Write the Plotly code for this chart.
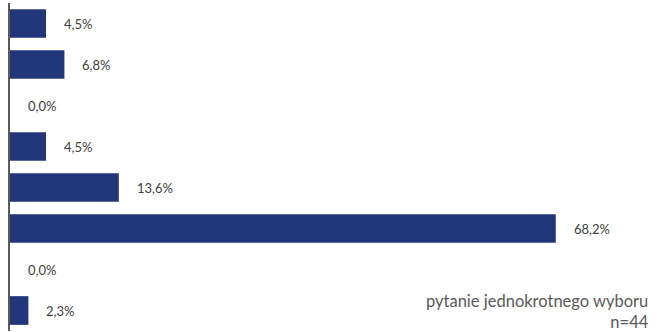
import plotly.graph_objects as go

categories = ["Kategoria 1", "Kategoria 2", "Kategoria 3", "Kategoria 4",
              "Kategoria 5", "Kategoria 6", "Kategoria 7", "Kategoria 8"]
values = [4.5, 6.8, 0.0, 4.5, 13.6, 68.2, 0.0, 2.3]
value_labels = [f"{v:.1f}".replace(".", ",") + "%" for v in values]
note_lines = ["pytanie jednokrotnego wyboru", "n=44"]

BAR = "#22377A"
TXT = "#404040"
FONT = "Lato"

fig = go.Figure()
fig.add_trace(go.Bar(
    x=values, y=categories, orientation="h",
    marker=dict(color=BAR, line=dict(width=0)),
    width=0.7, hoverinfo="skip",
))

for c, v, t in zip(categories, values, value_labels):
    fig.add_annotation(x=v, y=c, xref="x", yref="y", text=t, showarrow=False,
                       xanchor="left", yanchor="middle", xshift=16,
                       font=dict(family=FONT, size=13, color=TXT))

fig.add_annotation(x=1, y=0, xref="paper", yref="paper",
                   text="<br>".join(note_lines), showarrow=False,
                   xanchor="right", yanchor="bottom", align="right",
                   xshift=-4, yshift=-3,
                   font=dict(family=FONT, size=16.5, color="#595959"))

fig.update_layout(
    width=665, height=332,
    margin=dict(l=10, r=10, t=3, b=1),
    paper_bgcolor="white", plot_bgcolor="white",
    showlegend=False,
    xaxis=dict(range=[0, 80.6], visible=False, showgrid=False, zeroline=False),
    yaxis=dict(categoryorder="array", categoryarray=categories,
               range=[7.5, -0.5], showline=True, linecolor="#595959", linewidth=2,
               showticklabels=False, ticks="", showgrid=False, zeroline=False),
)

fig.write_html("out.html", config={"displayModeBar": False},
               post_script="document.body.style.margin='0';document.body.style.overflow='hidden';")
